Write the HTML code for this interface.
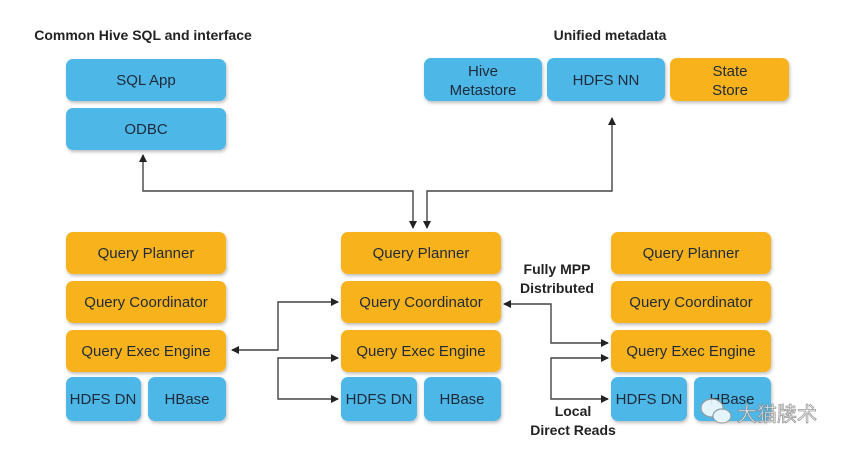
<!DOCTYPE html>
<html><head><meta charset="utf-8"><style>
html,body{margin:0;padding:0;background:#fff;width:848px;height:454px;overflow:hidden}
svg text{font-family:"Liberation Sans","Noto Sans CJK SC",sans-serif;font-size:15px;fill:#1f2a38;text-anchor:middle}
</style></head><body>
<svg width="848" height="454" viewBox="0 0 848 454" xmlns="http://www.w3.org/2000/svg">
<defs>
<filter id="sh" x="-10%" y="-20%" width="120%" height="150%"><feDropShadow dx="1" dy="2" stdDeviation="1.5" flood-color="#000" flood-opacity="0.25"/></filter>
<marker id="ar" markerWidth="8" markerHeight="8" refX="7" refY="4" orient="auto-start-reverse" markerUnits="userSpaceOnUse"><path d="M0,0 L8,4 L0,8 z" fill="#222"/></marker>
</defs>
<text x="143" y="40" style="font-weight:bold;font-size:14px;fill:#222">Common Hive SQL and interface</text>
<text x="610" y="40" style="font-weight:bold;font-size:14px;fill:#222">Unified metadata</text>
<g filter="url(#sh)">
<rect x="66" y="59" width="160" height="42" rx="7" fill="#4db7e8"/>
<rect x="66" y="108" width="160" height="42" rx="7" fill="#4db7e8"/>
<rect x="424" y="58" width="118" height="43" rx="7" fill="#4db7e8"/>
<rect x="547" y="58" width="118" height="43" rx="7" fill="#4db7e8"/>
<rect x="670" y="58" width="119" height="43" rx="7" fill="#f8b21c"/>
<rect x="66" y="232" width="160" height="42" rx="7" fill="#f8b21c"/>
<rect x="66" y="281" width="160" height="42" rx="7" fill="#f8b21c"/>
<rect x="66" y="330" width="160" height="42" rx="7" fill="#f8b21c"/>
<rect x="66" y="377" width="75" height="44" rx="7" fill="#4db7e8"/>
<rect x="148" y="377" width="78" height="44" rx="7" fill="#4db7e8"/>
<rect x="341" y="232" width="160" height="42" rx="7" fill="#f8b21c"/>
<rect x="341" y="281" width="160" height="42" rx="7" fill="#f8b21c"/>
<rect x="341" y="330" width="160" height="42" rx="7" fill="#f8b21c"/>
<rect x="341" y="377" width="76" height="44" rx="7" fill="#4db7e8"/>
<rect x="424" y="377" width="77" height="44" rx="7" fill="#4db7e8"/>
<rect x="611" y="232" width="160" height="42" rx="7" fill="#f8b21c"/>
<rect x="611" y="281" width="160" height="42" rx="7" fill="#f8b21c"/>
<rect x="611" y="330" width="160" height="42" rx="7" fill="#f8b21c"/>
<rect x="611" y="377" width="76" height="44" rx="7" fill="#4db7e8"/>
<rect x="694" y="377" width="77" height="44" rx="7" fill="#4db7e8"/>
</g>
<text x="146" y="85">SQL App</text>
<text x="146" y="134">ODBC</text>
<text x="483" y="76">Hive</text><text x="483" y="95">Metastore</text>
<text x="606" y="85">HDFS NN</text>
<text x="730" y="76">State</text><text x="730" y="95">Store</text>
<g>
<text x="146" y="258">Query Planner</text><text x="146" y="307">Query Coordinator</text><text x="146" y="356">Query Exec Engine</text>
<text x="103" y="404">HDFS DN</text><text x="187" y="404">HBase</text>
<text x="421" y="258">Query Planner</text><text x="421" y="307">Query Coordinator</text><text x="421" y="356">Query Exec Engine</text>
<text x="379" y="404">HDFS DN</text><text x="462" y="404">HBase</text>
<text x="691" y="258">Query Planner</text><text x="691" y="307">Query Coordinator</text><text x="691" y="356">Query Exec Engine</text>
<text x="649" y="404">HDFS DN</text><text x="732" y="404">HBase</text>
</g>
<g stroke="#444" stroke-width="1.4" fill="none">
<path d="M143,155 V191 H413 V228" marker-end="url(#ar)" marker-start="url(#ar)"/>
<path d="M612,118 V191 H427 V228" marker-end="url(#ar)" marker-start="url(#ar)"/>
<path d="M232,350 H278 V302 H338" marker-end="url(#ar)" marker-start="url(#ar)"/>
<path d="M338,358 H278 V399 H338" marker-end="url(#ar)" marker-start="url(#ar)"/>
<path d="M504,304 H551 V343 H608" marker-end="url(#ar)" marker-start="url(#ar)"/>
<path d="M608,358 H551 V399 H608" marker-end="url(#ar)" marker-start="url(#ar)"/>
</g>
<text x="557" y="274" style="font-weight:bold;font-size:14px;fill:#222">Fully MPP</text>
<text x="557" y="293" style="font-weight:bold;font-size:14px;fill:#222">Distributed</text>
<text x="573" y="416" style="font-weight:bold;font-size:14px;fill:#222">Local</text>
<text x="573" y="435" style="font-weight:bold;font-size:14px;fill:#222">Direct Reads</text>
<g opacity="0.85">
<ellipse cx="712" cy="408" rx="11" ry="9" fill="#fff" stroke="#999" stroke-width="1.2"/>
<ellipse cx="722" cy="416" rx="9" ry="7" fill="#fff" stroke="#999" stroke-width="1.2"/>
<text x="777" y="421" style="font-size:20px;fill:#fff;stroke:#888;stroke-width:0.8">大猫牍术</text>
</g>
</svg>
</body></html>
